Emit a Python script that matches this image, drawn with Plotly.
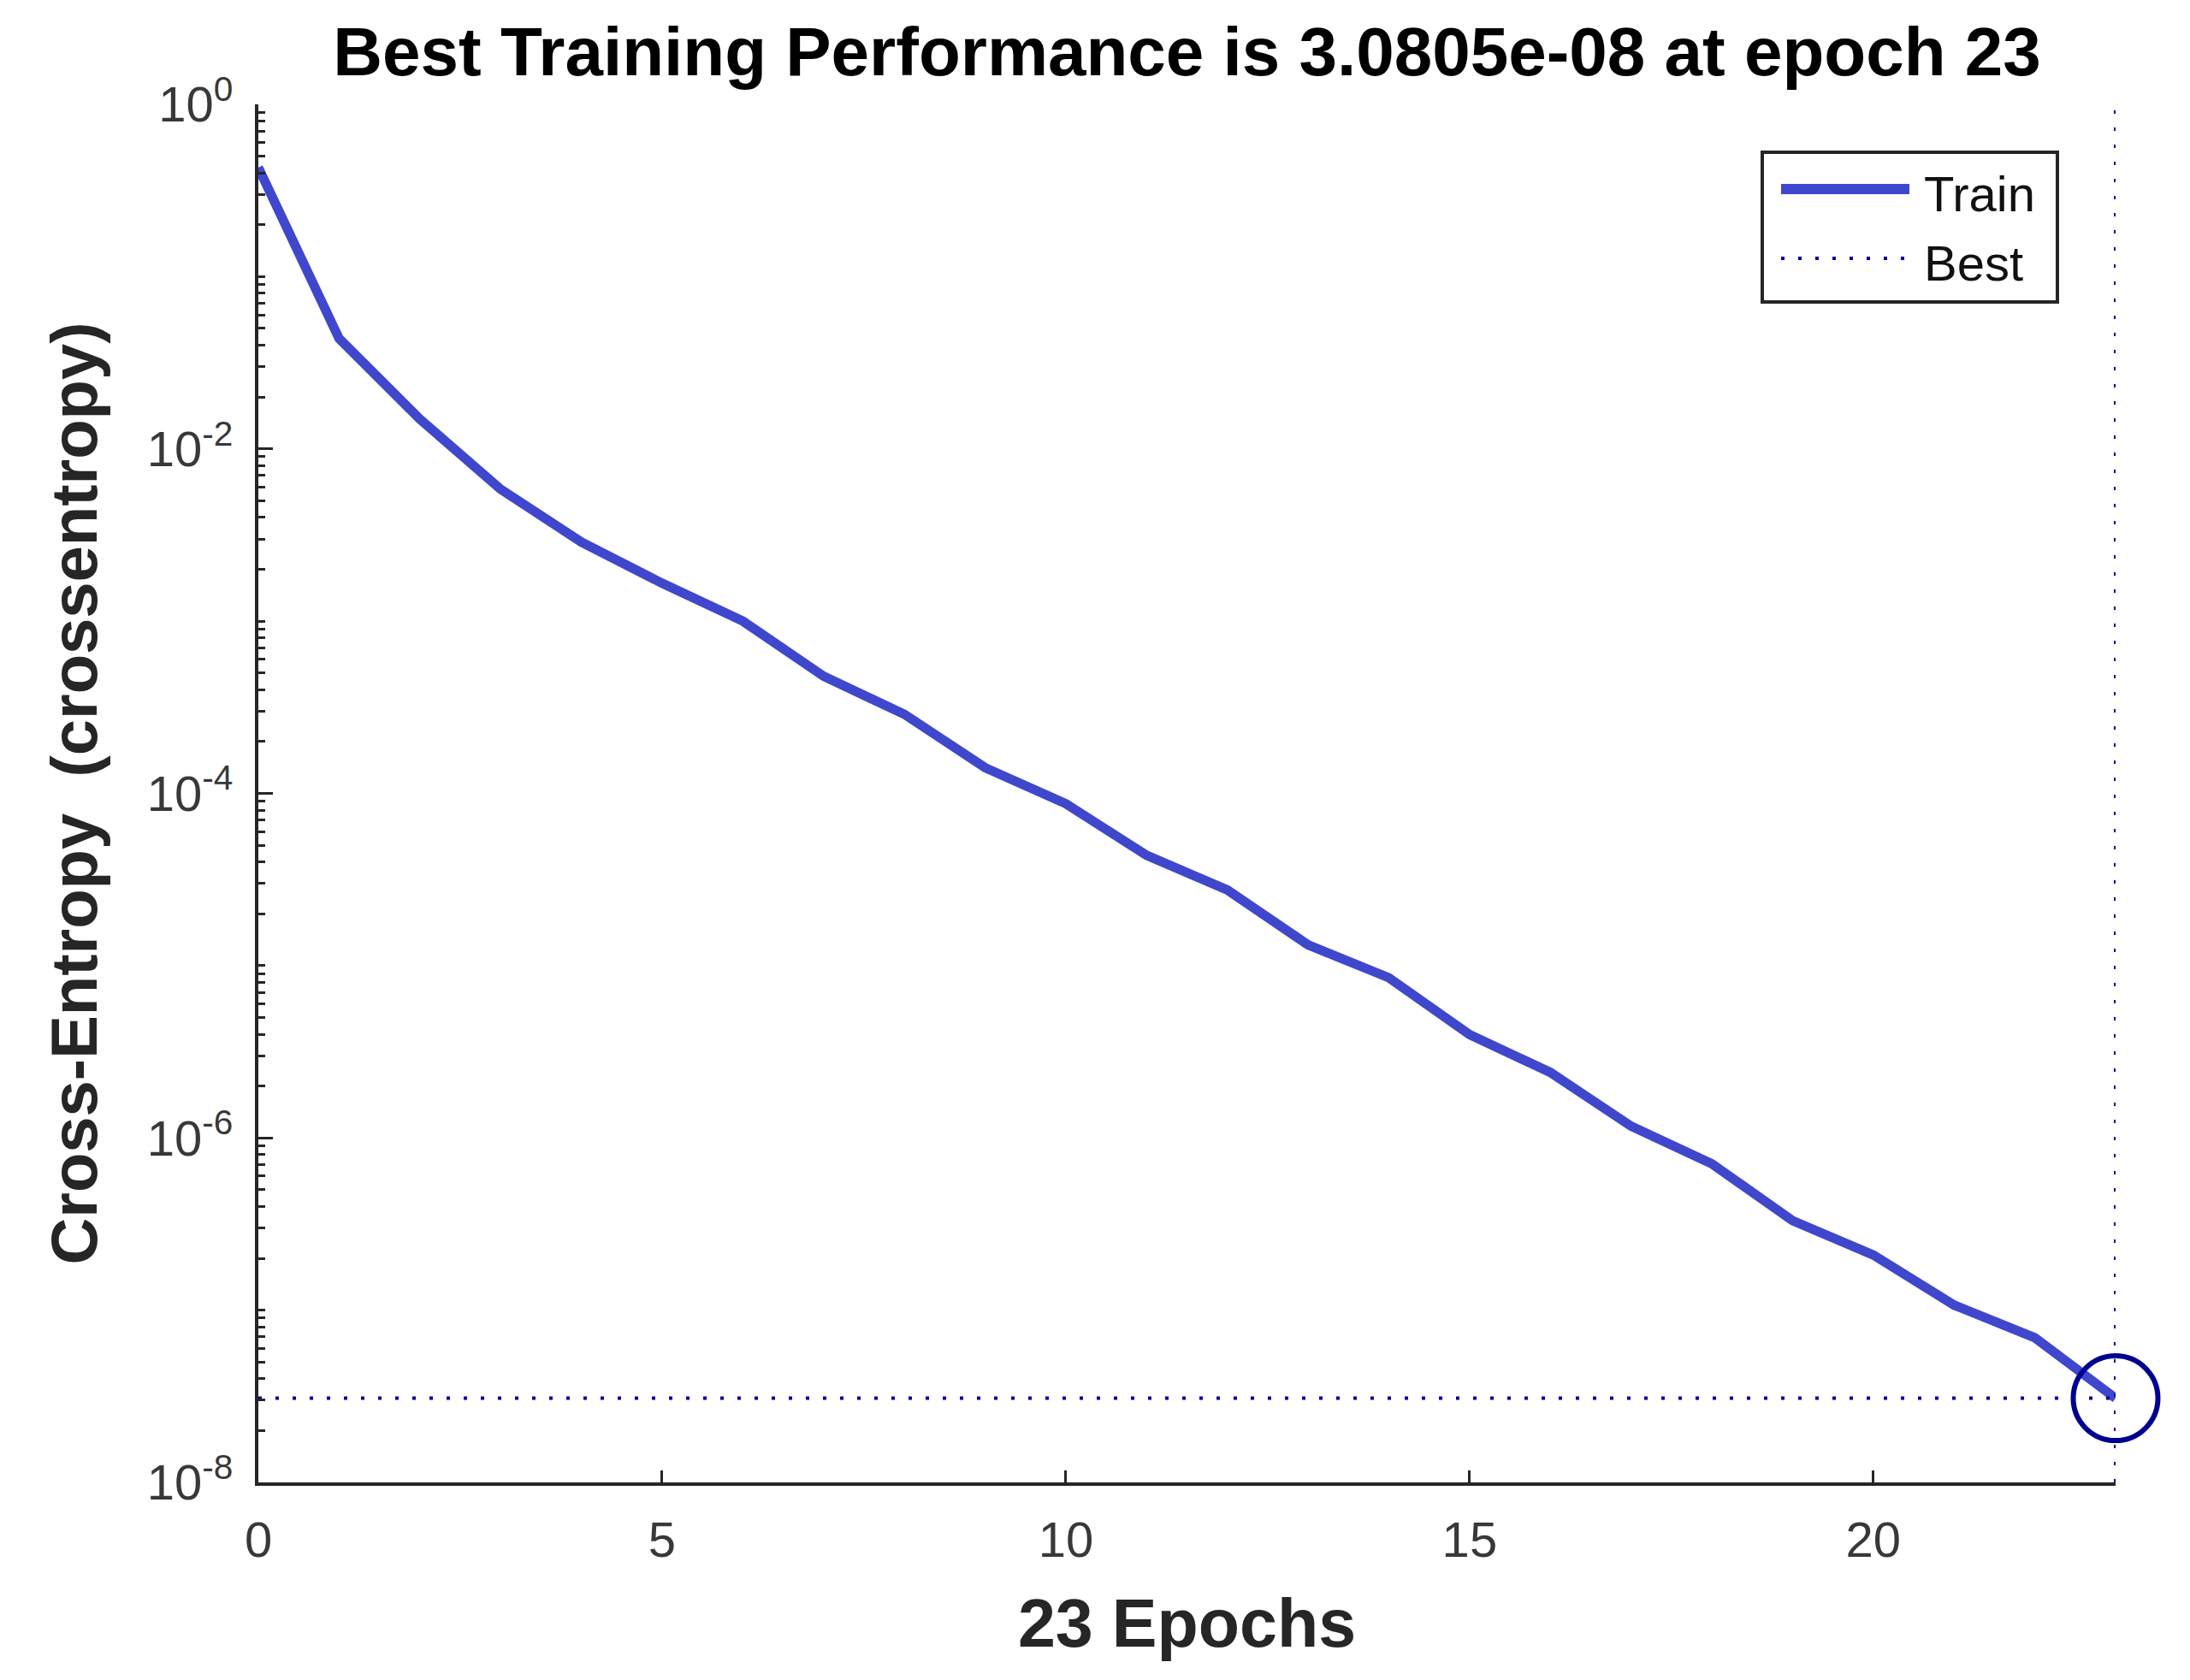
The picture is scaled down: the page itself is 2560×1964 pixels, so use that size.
import plotly.graph_objects as go

# training record
epochs = list(range(24))
train_perf = [0.43, 0.0437, 0.0149, 0.00583, 0.00288, 0.00166, 0.00100, 4.79e-4,
              2.88e-4, 1.41e-4, 8.71e-5, 4.37e-5, 2.75e-5, 1.32e-5, 8.51e-6, 3.98e-6,
              2.40e-6, 1.17e-6, 7.08e-7, 3.31e-7, 2.09e-7, 1.07e-7, 6.92e-8, 3.0805e-8]
best_epoch = 23
best_perf = 3.0805e-8

x_ticks = [0, 5, 10, 15, 20]
y_ticks = [1e-8, 1e-6, 1e-4, 1e-2, 1e0]
y_ticktext = ['10<sup>-8</sup>', '10<sup>-6</sup>', '10<sup>-4</sup>', '10<sup>-2</sup>', '10<sup>0</sup>']
y_minor = [m * 10.0 ** e for e in range(-8, 0) for m in range(1, 10) if not (m == 1 and e % 2 == 0)]

legend_names = ['Train', 'Best']

# the page body adds an 8px margin, so the figure is 8px smaller and shifted
OFF = 8
W, H = 2560 - OFF, 1964 - OFF
L, R, T, B = 302 - OFF, 87, 122 - OFF, 231
TRAIN_COLOR = '#3f47cd'
BEST_COLOR = '#0000a0'
AXIS_COLOR = '#262626'
TICK_COLOR = '#383838'
FONT = 'Liberation Sans, Arial, sans-serif'


def px_x(px):
    # page pixel -> paper x
    return (px - OFF - L) / (W - L - R)


def px_y(py):
    # page pixel -> paper y
    return (H + OFF - B - py) / (H - T - B)


fig = go.Figure()
fig.add_trace(go.Scatter(x=epochs, y=train_perf, mode='lines', name=legend_names[0],
                         line=dict(color=TRAIN_COLOR, width=11)))
fig.add_trace(go.Scatter(x=[0, best_epoch], y=[best_perf, best_perf], mode='lines', name=legend_names[1],
                         line=dict(color=BEST_COLOR, width=4, dash='4px,16px')))
fig.add_trace(go.Scatter(x=[best_epoch, best_epoch], y=[y_ticks[0], y_ticks[-1]], mode='lines',
                         line=dict(color=BEST_COLOR, width=4, dash='4px,16px')))
fig.add_trace(go.Scatter(x=[best_epoch], y=[best_perf], mode='markers', cliponaxis=False,
                         marker=dict(symbol='circle-open', size=99, color='#000090',
                                     line=dict(width=6, color='#000090'))))

# hand-drawn legend box in the MATLAB style
shapes = [
    dict(type='rect', xref='paper', yref='paper', x0=px_x(2060), x1=px_x(2405), y0=px_y(353), y1=px_y(178),
         line=dict(color=AXIS_COLOR, width=4), fillcolor='white', layer='above'),
    dict(type='line', xref='paper', yref='paper', x0=px_x(2082), x1=px_x(2232), y0=px_y(221), y1=px_y(221),
         line=dict(color=TRAIN_COLOR, width=12), layer='above'),
    dict(type='line', xref='paper', yref='paper', x0=px_x(2082), x1=px_x(2232), y0=px_y(302), y1=px_y(302),
         line=dict(color=BEST_COLOR, width=4, dash='4px,16px'), layer='above'),
]
annotations = [
    dict(text=legend_names[0], xref='paper', yref='paper', x=px_x(2247), y=px_y(226),
         xanchor='left', yanchor='middle', showarrow=False, font=dict(size=58, color='#111', family=FONT)),
    dict(text=legend_names[1], xref='paper', yref='paper', x=px_x(2247), y=px_y(307),
         xanchor='left', yanchor='middle', showarrow=False, font=dict(size=58, color='#111', family=FONT)),
]

fig.update_layout(
    width=W, height=H,
    margin=dict(l=L, r=R, t=T, b=B),
    paper_bgcolor='white', plot_bgcolor='white',
    showlegend=False,
    font=dict(family=FONT, size=58, color=AXIS_COLOR),
    title=dict(text='<b>Best Training Performance is 3.0805e-08 at epoch 23</b>',
               x=0.5, xref='paper', xanchor='center', y=1 - 52 / H, yref='container', yanchor='middle',
               font=dict(size=80, color='black', family=FONT)),
    shapes=shapes,
    annotations=annotations,
)

fig.update_xaxes(range=[0, 23], tickvals=x_ticks, ticks='inside', ticklen=14, tickwidth=3,
                 tickcolor=AXIS_COLOR, showline=True, linecolor=AXIS_COLOR, linewidth=4,
                 showgrid=False, zeroline=False, ticklabelstandoff=13,
                 tickfont=dict(size=58, color=TICK_COLOR),
                 title=dict(text='<b>23 Epochs</b>', standoff=40, font=dict(size=79, color=AXIS_COLOR)))
fig.update_yaxes(type='log', range=[-8, 0], tickvals=y_ticks, ticktext=y_ticktext,
                 ticks='inside', ticklen=17, tickwidth=3, tickcolor=AXIS_COLOR,
                 minor=dict(tickvals=y_minor, ticks='inside', ticklen=8, tickwidth=3, tickcolor=AXIS_COLOR,
                            showgrid=False),
                 showline=True, linecolor=AXIS_COLOR, linewidth=4, showgrid=False, zeroline=False,
                 ticklabelstandoff=14, tickfont=dict(size=58, color=TICK_COLOR),
                 title=dict(text='<b>Cross-Entropy\u00a0\u00a0(crossentropy)</b>', standoff=34,
                            font=dict(size=76, color=AXIS_COLOR)))

fig.write_html('out.html')
